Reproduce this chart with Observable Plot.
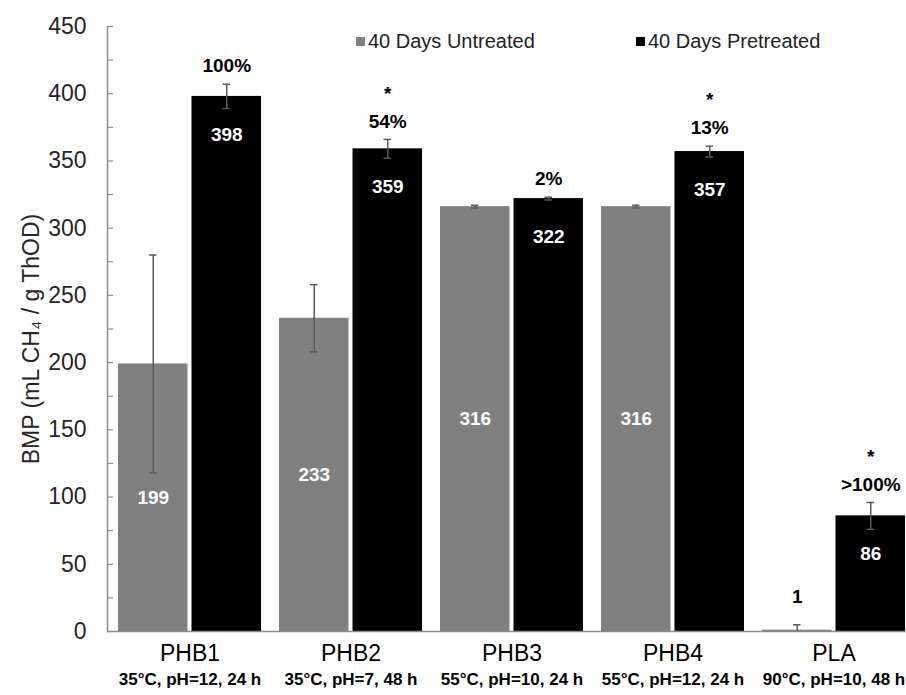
<!DOCTYPE html>
<html><head><meta charset="utf-8">
<script src="https://cdn.jsdelivr.net/npm/d3@7"></script>
<script src="https://cdn.jsdelivr.net/npm/@observablehq/plot@0.6"></script>
<style>
body{margin:0;background:#fff;font-family:"Liberation Sans",Arial,sans-serif;}
#wrap{position:relative;width:906px;height:695px;overflow:hidden;}
.leg{position:absolute;top:30px;display:flex;align-items:center;font-size:20px;color:#222;white-space:nowrap;}
.sw{display:inline-block;width:9px;height:9px;margin-right:3px;}
</style></head><body>
<div id="wrap"><div id="chart"></div></div>
<script>
const categories = ["PHB1","PHB2","PHB3","PHB4","PLA"];
const conditions = ["35°C, pH=12, 24 h","35°C, pH=7, 48 h","55°C, pH=10, 24 h","55°C, pH=12, 24 h","90°C, pH=10, 48 h"];
const untreated = [199,233,316,316,1];
const untreatedErr = [81,25,1,1,4];
const pretreated = [398,359,322,357,86];
const pretreatedErr = [9,7,1,4,10];
const increaseLabels = ["100%","54%","2%","13%",">100%"];
const significant = [false,true,false,true,true];
const seriesNames = ["40 Days Untreated","40 Days Pretreated"];
const seriesColors = ["#808080","#000000"];
const yTicks = [0,50,100,150,200,250,300,350,400,450];
const yMinorTicks = [0,25,50,75,100,125,150,175,200,225,250,275,300,325,350,375,400,425,450];
const yTitle = "BMP (mL CH\u2084 / g ThOD)";

const data = categories.map((c,i)=>({cat:c, cond:conditions[i], u:untreated[i], ue:untreatedErr[i], p:pretreated[i], pe:pretreatedErr[i], inc:increaseLabels[i], sig:significant[i]}));

const off = 36.75;          // half-bar offset within group
const errColor = "#5a5a5a";
const font = "Liberation Sans, Arial, sans-serif";

const chart = Plot.plot({
  width: 906, height: 695,
  marginLeft: 107, marginRight: 0, marginTop: 26, marginBottom: 64,
  style: {fontFamily: font, background: "#fff", overflow: "visible"},
  x: {domain: categories, range: [107, 916], paddingInner: 0.1115, paddingOuter: 0.06, axis: null},
  y: {domain: [0, 450], axis: null},
  marks: [
    Plot.barY(data, {x: "cat", y: "u", fill: seriesColors[0], insetRight: 73.5}),
    Plot.barY(data, {x: "cat", y: "p", fill: seriesColors[1], insetLeft: 73.5}),
    // axis lines and ticks
    Plot.ruleY([0], {stroke: "#8c8c8c", strokeWidth: 1.5}),
    Plot.frame({anchor: "left", stroke: "#8c8c8c", strokeWidth: 1.5}),
    Plot.ruleY(yMinorTicks, {stroke: "#8c8c8c", strokeWidth: 1.2, insetRight: 799 - 6}),
    Plot.text(yTicks, {y: d => d, text: d => String(d), frameAnchor: "left", textAnchor: "end", dx: -21, fontSize: 23, fill: "#262626"}),
    Plot.text([yTitle], {text: d => d, frameAnchor: "left", textAnchor: "middle", rotate: -90, dx: -76, dy: 10, fontSize: 23, fill: "#262626"}),
    // error bars untreated
    Plot.ruleX(data, {x: "cat", y1: d => Math.max(0, d.u - d.ue), y2: d => d.u + d.ue, dx: -off, stroke: errColor, strokeWidth: 1.5}),
    Plot.tickY(data, {x: "cat", y: d => d.u + d.ue, dx: -off, insetLeft: 67.75, insetRight: 67.75, stroke: errColor, strokeWidth: 1.5}),
    Plot.tickY(data.filter(d => d.u - d.ue > 0), {x: "cat", y: d => d.u - d.ue, dx: -off, insetLeft: 67.75, insetRight: 67.75, stroke: errColor, strokeWidth: 1.5}),
    // error bars pretreated
    Plot.ruleX(data, {x: "cat", y1: d => d.p - d.pe, y2: d => d.p + d.pe, dx: off, stroke: errColor, strokeWidth: 1.5}),
    Plot.tickY(data, {x: "cat", y: d => d.p + d.pe, dx: off, insetLeft: 67.75, insetRight: 67.75, stroke: errColor, strokeWidth: 1.5}),
    Plot.tickY(data, {x: "cat", y: d => d.p - d.pe, dx: off, insetLeft: 67.75, insetRight: 67.75, stroke: errColor, strokeWidth: 1.5}),
    // value labels
    Plot.text(data.filter(d => d.u >= 20), {x: "cat", y: d => d.u / 2, text: d => String(d.u), dx: -off, fill: "#fff", fontWeight: "bold", fontSize: 19}),
    Plot.text(data.filter(d => d.u < 20), {x: "cat", y: d => d.u + d.ue, text: d => String(d.u), dx: -off, dy: -28, fill: "#000", fontWeight: "bold", fontSize: 19}),
    Plot.text(data, {x: "cat", y: "p", text: d => String(d.p), dx: off, dy: 38, fill: "#fff", fontWeight: "bold", fontSize: 19}),
    // increase labels and significance
    Plot.text(data, {x: "cat", y: d => d.p + d.pe, text: "inc", dx: off, dy: -18, fill: "#000", fontWeight: "bold", fontSize: 19}),
    Plot.text(data.filter(d => d.sig), {x: "cat", y: d => d.p + d.pe, text: () => "*", dx: off, dy: -46, fill: "#000", fontWeight: "bold", fontSize: 19}),
    // category labels
    Plot.text(data, {x: "cat", text: "cat", frameAnchor: "bottom", dy: 29, fontSize: 23, fill: "#000"}),
    Plot.text(data, {x: "cat", text: "cond", frameAnchor: "bottom", dy: 53, fontSize: 17, fontWeight: "bold", fill: "#000", fontFamily: "Liberation Sans Narrow, Arial Narrow, Liberation Sans, sans-serif"})
  ]
});
const wrap = document.getElementById("wrap");
document.getElementById("chart").appendChild(chart);
const legendPos = [356, 636];
seriesNames.forEach((name, i) => {
  const el = document.createElement("div");
  el.className = "leg";
  el.style.left = legendPos[i] + "px";
  el.innerHTML = `<span class="sw" style="background:${seriesColors[i]}"></span><span>${name}</span>`;
  wrap.appendChild(el);
});
</script>
</body></html>
